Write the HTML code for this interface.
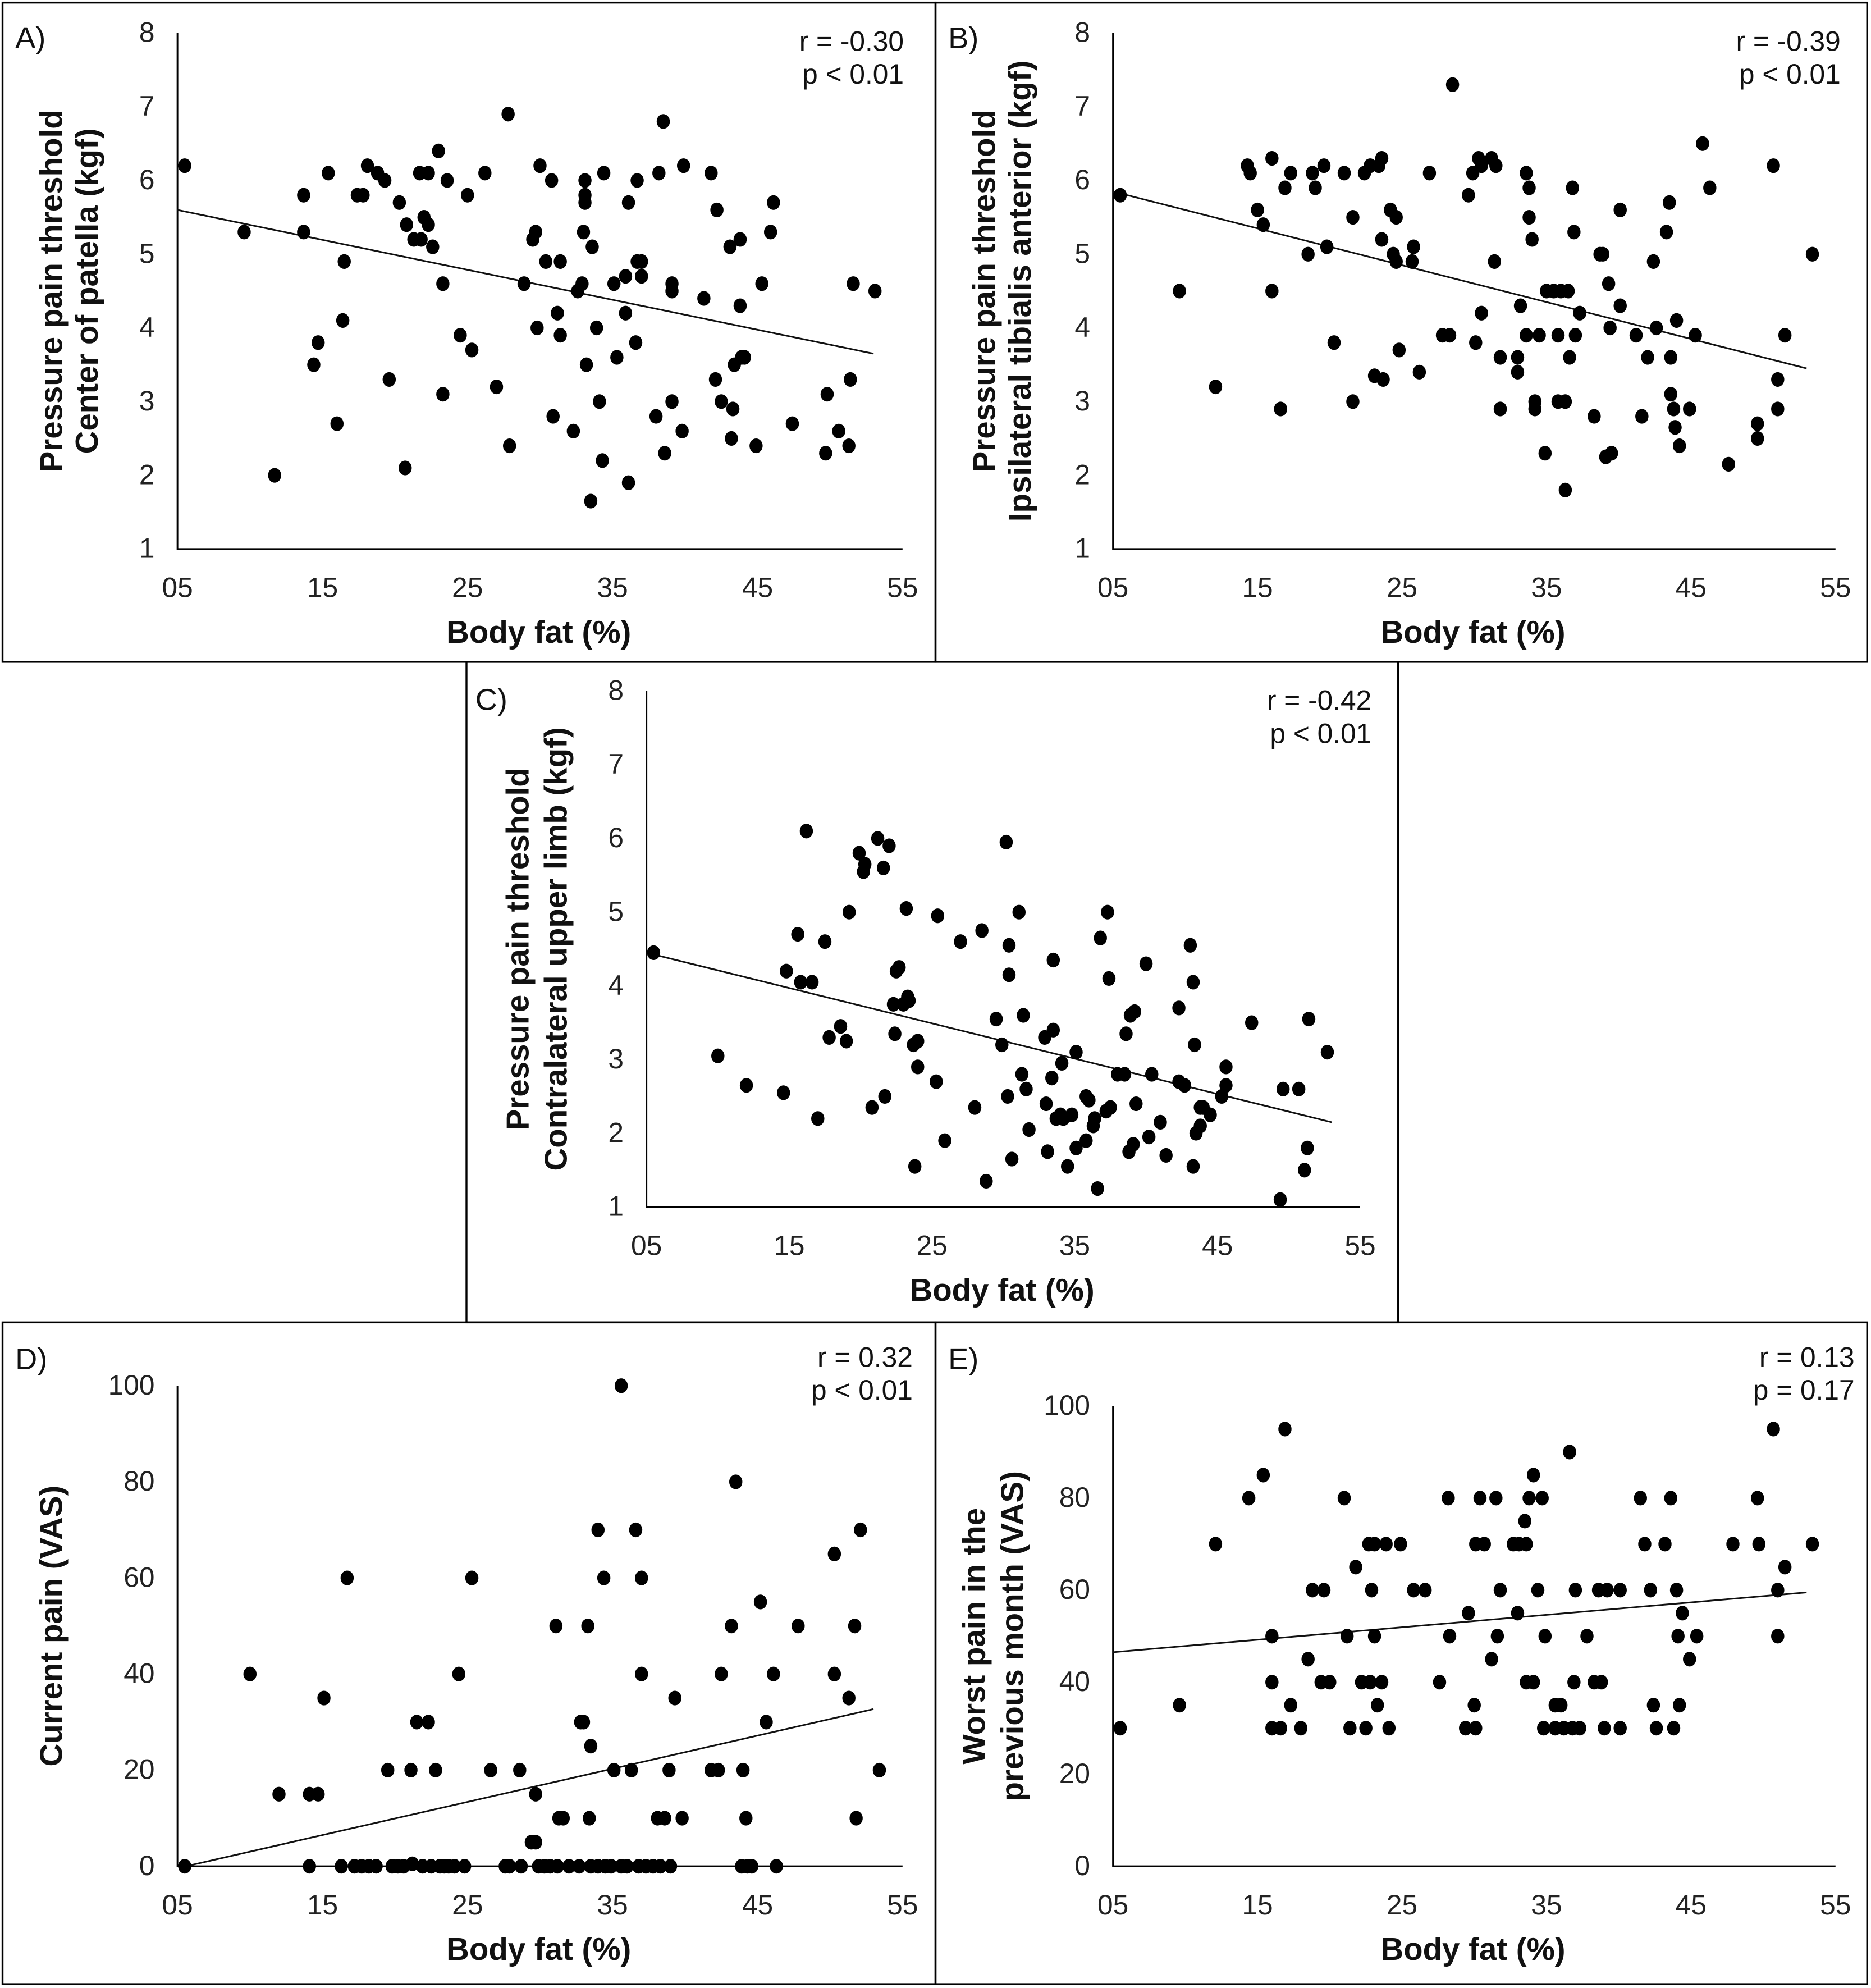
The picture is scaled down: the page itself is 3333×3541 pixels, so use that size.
<!DOCTYPE html>
<html><head><meta charset="utf-8"><style>
html,body{margin:0;padding:0;background:#fff}
svg{display:block}
.tk{font-family:"Liberation Sans Narrow","Liberation Sans",sans-serif;font-size:22px;fill:#222}
.ti{font-family:"Liberation Sans",sans-serif;font-size:25px;font-weight:bold;fill:#111}
.an{font-family:"Liberation Sans Narrow","Liberation Sans",sans-serif;font-size:22px;fill:#111}
.pl{font-family:"Liberation Sans Narrow","Liberation Sans",sans-serif;font-size:24px;fill:#111}
</style></head><body>
<svg id="fig" width="3333" height="3541" viewBox="0 0 1476 1568" xmlns="http://www.w3.org/2000/svg">
<rect x="0" y="0" width="1476" height="1568" fill="#fff"/>
</svg>
<script>
const xTicks=[5,15,25,35,45,55];
const xTickLabels=["05","15","25","35","45","55"];
const yTicksKgf=[1,2,3,4,5,6,7,8];
const yTicksVas=[0,20,40,60,80,100];
const dataA=[[5.5,6.2],[9.6,5.3],[11.7,2.0],[13.7,5.8],[13.7,5.3],[14.7,3.8],[14.4,3.5],[15.4,6.1],[16.0,2.7],[16.4,4.1],[16.5,4.9],[17.4,5.8],[17.8,5.8],[18.1,6.2],[18.8,6.1],[19.3,6.0],[19.6,3.3],[20.3,5.7],[20.8,5.4],[21.3,5.2],[21.8,5.2],[22.0,5.5],[21.7,6.1],[22.3,6.1],[22.3,5.4],[22.6,5.1],[23.0,6.4],[23.3,4.6],[23.6,6.0],[20.7,2.1],[23.3,3.1],[24.5,3.9],[25.0,5.8],[25.3,3.7],[26.2,6.1],[27.0,3.2],[27.8,6.9],[27.9,2.4],[28.9,4.6],[29.5,5.2],[29.7,5.3],[29.8,4.0],[30.0,6.2],[30.4,4.9],[30.8,6.0],[30.9,2.8],[31.2,4.2],[31.4,4.9],[31.4,3.9],[32.3,2.6],[32.6,4.5],[32.9,4.6],[33.0,5.3],[33.1,6.0],[33.1,5.8],[33.1,5.7],[33.2,3.5],[33.5,1.65],[33.6,5.1],[33.9,4.0],[34.1,3.0],[34.3,2.2],[34.4,6.1],[35.1,4.6],[35.3,3.6],[35.9,4.2],[35.9,4.7],[36.1,5.7],[36.1,1.9],[36.7,6.0],[36.6,3.8],[36.7,4.9],[37.0,4.9],[37.0,4.7],[38.0,2.8],[38.2,6.1],[38.5,6.8],[38.6,2.3],[39.1,4.5],[39.1,4.6],[39.1,3.0],[39.8,2.6],[39.9,6.2],[41.3,4.4],[41.8,6.1],[42.1,3.3],[42.2,5.6],[42.5,3.0],[43.2,2.5],[43.1,5.1],[43.3,2.9],[43.4,3.5],[43.8,5.2],[43.8,4.3],[43.9,3.6],[44.1,3.6],[44.9,2.4],[45.3,4.6],[45.9,5.3],[46.1,5.7],[47.4,2.7],[49.8,3.1],[49.7,2.3],[50.6,2.6],[51.3,2.4],[51.4,3.3],[51.6,4.6],[53.1,4.5]];
const trendA=[[5,5.6],[53,3.65]];
const dataB=[[5.5,5.8],[9.6,4.5],[12.1,3.2],[14.3,6.2],[14.5,6.1],[15.0,5.6],[15.4,5.4],[16.0,6.3],[16.0,4.5],[16.6,2.9],[16.9,5.9],[17.3,6.1],[18.5,5.0],[18.8,6.1],[19.0,5.9],[19.6,6.2],[19.8,5.1],[20.3,3.8],[21.0,6.1],[21.6,3.0],[21.6,5.5],[22.4,6.1],[22.8,6.2],[23.1,3.35],[23.4,6.2],[23.6,6.3],[23.6,5.2],[23.7,3.3],[24.2,5.6],[24.4,5.0],[24.6,5.5],[24.6,4.9],[24.8,3.7],[25.7,4.9],[25.8,5.1],[26.2,3.4],[26.9,6.1],[27.8,3.9],[28.5,7.3],[28.3,3.9],[29.6,5.8],[29.9,6.1],[30.3,6.3],[30.1,3.8],[30.5,4.2],[30.5,6.2],[31.2,6.3],[31.5,6.2],[31.4,4.9],[31.8,3.6],[31.8,2.9],[33.0,3.4],[33.0,3.6],[33.2,4.3],[33.6,6.1],[33.6,3.9],[33.8,5.9],[33.8,5.5],[34.2,2.9],[34.0,5.2],[34.2,3.0],[34.5,3.9],[34.9,2.3],[35.0,4.5],[35.5,4.5],[35.8,3.0],[35.8,3.9],[36.0,4.5],[36.3,3.0],[36.3,1.8],[36.5,4.5],[36.6,3.6],[36.8,5.9],[36.9,5.3],[37.0,3.9],[37.3,4.2],[38.3,2.8],[38.7,5.0],[38.9,5.0],[39.3,4.6],[39.1,2.25],[39.5,2.3],[39.4,4.0],[40.1,4.3],[40.1,5.6],[41.2,3.9],[41.6,2.8],[42.0,3.6],[42.4,4.9],[42.6,4.0],[43.3,5.3],[43.5,5.7],[43.6,3.1],[43.6,3.6],[43.8,2.9],[44.0,4.1],[43.9,2.65],[44.2,2.4],[44.9,2.9],[45.3,3.9],[45.8,6.5],[46.3,5.9],[47.6,2.15],[49.6,2.7],[49.6,2.5],[50.7,6.2],[51.0,3.3],[51.0,2.9],[51.5,3.9],[53.4,5.0]];
const trendB=[[5,5.85],[53,3.45]];
const dataC=[[5.5,4.45],[10.0,3.05],[12.0,2.65],[14.6,2.55],[14.8,4.2],[15.6,4.7],[15.8,4.05],[16.2,6.1],[16.6,4.05],[17.0,2.2],[17.5,4.6],[17.8,3.3],[18.6,3.45],[19.0,3.25],[19.2,5.0],[19.9,5.8],[20.2,5.55],[20.3,5.65],[20.8,2.35],[21.2,6.0],[21.6,5.6],[21.7,2.5],[22.0,5.9],[22.3,3.75],[22.4,3.35],[22.5,4.2],[22.7,4.25],[23.0,3.75],[23.2,5.05],[23.3,3.85],[23.4,3.8],[23.7,3.2],[23.8,1.55],[24.0,3.25],[24.0,2.9],[25.3,2.7],[25.4,4.95],[25.9,1.9],[27.0,4.6],[28.0,2.35],[28.5,4.75],[28.8,1.35],[29.5,3.55],[29.9,3.2],[30.2,5.95],[30.3,2.5],[30.4,4.15],[30.4,4.55],[30.6,1.65],[31.1,5.0],[31.3,2.8],[31.4,3.6],[31.6,2.6],[31.8,2.05],[32.9,3.3],[33.1,1.75],[33.0,2.4],[33.4,2.75],[33.5,4.35],[33.5,3.4],[33.7,2.2],[34.0,2.25],[34.1,2.95],[34.2,2.2],[34.5,1.55],[34.8,2.25],[35.1,1.8],[35.1,3.1],[35.8,2.5],[35.8,1.9],[36.0,2.45],[36.3,2.1],[36.4,2.2],[36.6,1.25],[36.8,4.65],[37.2,2.3],[37.3,5.0],[37.4,4.1],[37.5,2.35],[38.0,2.8],[38.5,2.8],[38.6,3.35],[38.8,1.75],[38.9,3.6],[39.1,1.85],[39.2,3.65],[39.3,2.4],[40.0,4.3],[40.4,2.8],[40.2,1.95],[41.0,2.15],[41.4,1.7],[42.3,2.7],[42.3,3.7],[42.7,2.65],[43.1,4.55],[43.3,4.05],[43.3,1.55],[43.4,3.2],[43.5,2.0],[43.8,2.35],[43.8,2.1],[44.0,2.35],[44.5,2.25],[45.3,2.5],[45.6,2.9],[45.6,2.65],[47.4,3.5],[49.6,2.6],[49.4,1.1],[50.7,2.6],[51.3,1.8],[51.1,1.5],[51.4,3.55],[52.7,3.1]];
const trendC=[[5,4.45],[53,2.15]];
const dataD=[[5.5,0],[10.0,40],[12.0,15],[14.1,15],[14.1,0],[14.7,15],[15.1,35],[16.3,0],[16.7,60],[17.2,0],[17.7,0],[18.2,0],[18.7,0],[19.5,20],[19.8,0],[20.2,0],[20.6,0],[21.1,20],[21.2,0.5],[21.5,30],[21.9,0],[22.3,30],[22.5,0],[22.8,20],[23.1,0],[23.4,0],[23.7,0],[24.1,0],[24.4,40],[24.8,0],[25.3,60],[26.6,20],[27.6,0],[27.9,0],[28.6,20],[28.7,0],[29.4,5],[29.7,5],[29.7,15],[29.9,0],[30.3,0],[30.7,0],[31.1,50],[31.2,0],[31.3,10],[31.6,10],[32.0,0],[32.7,0],[32.8,30],[33.0,30],[33.3,50],[33.5,25],[33.4,10],[33.5,0],[34.0,0],[34.0,70],[34.4,60],[34.5,0],[34.9,0],[35.1,20],[35.6,100],[35.6,0],[36.0,0],[36.3,20],[36.6,70],[36.8,0],[37.0,60],[37.0,40],[37.3,0],[37.8,0],[38.1,10],[38.3,0],[38.6,10],[38.9,20],[39.0,0],[39.3,35],[39.8,10],[41.8,20],[42.3,20],[42.5,40],[43.2,50],[43.5,80],[43.9,0],[44.0,20],[44.2,10],[44.3,0],[44.6,0],[45.2,55],[45.6,30],[46.1,40],[46.3,0],[47.8,50],[50.3,65],[50.3,40],[51.3,35],[51.7,50],[51.8,10],[52.1,70],[53.4,20]];
const trendD=[[5.6,0],[53,32.7]];
const dataE=[[5.5,30],[9.6,35],[12.1,70],[14.4,80],[15.4,85],[16.0,30],[16.0,50],[16.0,40],[16.9,95],[16.6,30],[17.3,35],[18.0,30],[18.5,45],[18.8,60],[19.4,40],[19.6,60],[20.0,40],[21.0,80],[21.2,50],[21.4,30],[21.8,65],[22.2,40],[22.5,30],[22.7,70],[22.8,40],[22.9,60],[23.1,50],[23.1,70],[23.3,35],[23.6,40],[23.9,70],[24.1,30],[24.9,70],[25.8,60],[26.6,60],[27.6,40],[28.2,80],[28.3,50],[29.4,30],[29.6,55],[30.0,35],[30.1,70],[30.1,30],[30.4,80],[30.7,70],[31.2,45],[31.6,50],[31.8,60],[31.5,80],[32.7,70],[33.0,55],[33.1,70],[33.5,75],[33.6,70],[33.6,40],[33.8,80],[34.1,40],[34.1,85],[34.4,60],[34.7,80],[34.8,30],[34.9,50],[35.6,30],[35.6,35],[36.0,35],[36.2,30],[36.6,90],[36.8,30],[36.9,40],[37.0,60],[37.3,30],[37.8,50],[38.3,40],[38.6,60],[38.8,40],[39.0,30],[39.2,60],[40.1,60],[40.1,30],[41.5,80],[41.8,70],[42.2,60],[42.4,35],[42.6,30],[43.2,70],[43.6,80],[43.8,30],[44.0,60],[44.1,50],[44.2,35],[44.4,55],[44.9,45],[45.4,50],[47.9,70],[49.6,80],[49.7,70],[50.7,95],[51.0,60],[51.0,50],[51.5,65],[53.4,70]];
const trendE=[[5,46.5],[53,59.5]];

const NS="http://www.w3.org/2000/svg";
const svg=document.getElementById('fig');
function mk(tag,attrs,parent){const e=document.createElementNS(NS,tag);for(const k in attrs)e.setAttribute(k,attrs[k]);(parent||svg).appendChild(e);return e;}
function txt(s,attrs,parent){const e=mk('text',attrs,parent);e.textContent=s;return e;}

const panels=[
 {id:'a',box:[2,2,736,520],lab:'A)',labXY:[12,38],x0:140,x1:712,yTop:26,yBot:433,yMin:1,yMax:8,yt:yTicksKgf,data:dataA,trend:trendA,r:'r = -0.30',p:'p < 0.01',annX:713,annY:40,yTitle:['Pressure pain threshold','Center of patella (kgf)'],yTX:[40,68]},
 {id:'b',box:[738,2,735,520],lab:'B)',labXY:[748,38],x0:878,x1:1448,yTop:26,yBot:433,yMin:1,yMax:8,yt:yTicksKgf,data:dataB,trend:trendB,r:'r = -0.39',p:'p < 0.01',annX:1452,annY:40,yTitle:['Pressure pain threshold','Ipsilateral tibialis anterior (kgf)'],yTX:[776,804]},
 {id:'c',box:[368,522,735,521],lab:'C)',labXY:[375,560],x0:510,x1:1073,yTop:545,yBot:952,yMin:1,yMax:8,yt:yTicksKgf,data:dataC,trend:trendC,r:'r = -0.42',p:'p < 0.01',annX:1082,annY:560,yTitle:['Pressure pain threshold','Contralateral upper limb (kgf)'],yTX:[408,438]},
 {id:'d',box:[2,1043,736,522],lab:'D)',labXY:[12,1080],x0:140,x1:712,yTop:1093,yBot:1472,yMin:0,yMax:100,yt:yTicksVas,data:dataD,trend:trendD,r:'r = 0.32',p:'p < 0.01',annX:720,annY:1078,yTitle:['Current pain (VAS)'],yTX:[40]},
 {id:'e',box:[738,1043,735,522],lab:'E)',labXY:[748,1080],x0:878,x1:1448,yTop:1109,yBot:1472,yMin:0,yMax:100,yt:yTicksVas,data:dataE,trend:trendE,r:'r = 0.13',p:'p = 0.17',annX:1463,annY:1078,yTitle:['Worst pain in the','previous month (VAS)'],yTX:[768,798]}
];

panels.forEach(P=>{
 const g=mk('g',{});
 
 
 const b=P.box;
 mk('rect',{x:b[0],y:b[1],width:b[2],height:b[3],fill:'none',stroke:'#000','stroke-width':1.5},g);
 const sx=v=>P.x0+(v-5)/50*(P.x1-P.x0);
 const sy=v=>P.yBot-(v-P.yMin)/(P.yMax-P.yMin)*(P.yBot-P.yTop);
 const ax=mk('path',{d:`M${P.x0},${P.yTop}V${P.yBot}H${P.x1}`,fill:'none',stroke:'#000','stroke-width':1.3},g);
 
 
 P.yt.forEach(v=>{
  const t=txt(String(v),{x:P.x0-18,y:sy(v)+7,'text-anchor':'end',class:'tk'},g);
  
  
 });
 xTicks.forEach((v,i)=>{
  const t=txt(xTickLabels[i],{x:sx(v),y:P.yBot+38,'text-anchor':'middle',class:'tk'},g);
  
  
 });
 const xt=txt('Body fat (%)',{x:(P.x0+P.x1)/2-1,y:P.yBot+74,'text-anchor':'middle',class:'ti'},g);
 
 
 const cy=(P.yTop+P.yBot)/2;
 P.yTitle.forEach((s,i)=>{
  const t=txt(s,{x:0,y:0,'text-anchor':'middle',class:'ti',transform:`translate(${P.yTX[i]+9},${cy}) rotate(-90)`},g);
  
  
 });
 const pl=txt(P.lab,{x:P.labXY[0],y:P.labXY[1],class:'pl'},g);
 
 
 const r=txt(P.r,{x:P.annX,y:P.annY,'text-anchor':'end',class:'an'},g);
 
 
 const p=txt(P.p,{x:P.annX,y:P.annY+26,'text-anchor':'end',class:'an'},g);
 
 
 const tl=mk('line',{x1:sx(P.trend[0][0]),y1:sy(P.trend[0][1]),x2:sx(P.trend[1][0]),y2:sy(P.trend[1][1]),stroke:'#111','stroke-width':1.3},g);
 
 
 P.data.forEach(d=>{
  const c=mk('ellipse',{cx:sx(d[0]),cy:sy(d[1]),rx:5.2,ry:5.8,fill:'#000'},g);
  
  
 });
});
</script>
</body></html>
